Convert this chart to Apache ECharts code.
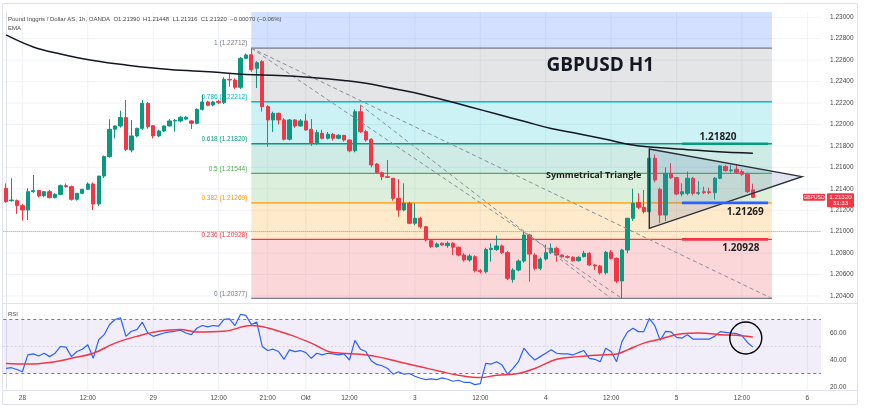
<!DOCTYPE html>
<html><head><meta charset="utf-8">
<script src="https://cdn.jsdelivr.net/npm/echarts@6/dist/echarts.min.js"></script>
<style>html,body{margin:0;padding:0;background:#fff;overflow:hidden}#c{width:870px;height:419px}</style>
</head><body><div id="c"></div>
<script>
// ---------------- DATA ----------------
const opens = [1.21404,1.21289,1.21289,1.21243,1.21202,1.21373,1.21383,1.21336,1.21373,1.21317,
1.21348,1.21429,1.2142,1.21302,1.21358,1.21395,1.21445,1.21258,1.21519,1.217,
1.21955,1.21986,1.22064,1.21762,1.21893,1.21964,1.22197,1.21989,1.21893,1.21939,
1.21986,1.22033,1.22033,1.2205,1.22033,1.22011,1.22141,1.2221,1.22182,1.22216,
1.22204,1.22421,1.22415,1.22347,1.22617,1.2265,1.22524,1.22586,1.22166,1.22042,
1.22104,1.22042,1.21862,1.22042,1.21986,1.22033,1.21955,1.21824,1.21918,1.21871,
1.21908,1.21871,1.21899,1.21855,1.21755,1.22119,1.21933,1.21862,1.21631,1.2155,
1.21513,1.21498,1.21311,1.21202,1.21265,1.21078,1.21125,1.21046,1.20916,1.2086,
1.20892,1.2087,1.20892,1.20855,1.20782,1.20736,1.20767,1.20636,1.20627,1.20833,
1.20833,1.20867,1.20804,1.20555,1.20642,1.20726,1.20969,1.20782,1.20658,1.20745,
1.20804,1.20845,1.20782,1.20767,1.20761,1.20729,1.20767,1.20798,1.20689,1.2068,
1.20617,1.20807,1.20751,1.2054,1.20829,1.21125,1.21271,1.21227,1.21186,1.21685,
1.21395,1.21155,1.21544,1.21504,1.21351,1.21358,1.21498,1.21358,1.21373,1.21373,
1.21364,1.21498,1.21607,1.21569,1.21582,1.2156,1.21535,1.2139];
const highs = [1.2145,1.21498,1.2130,1.2126,1.21404,1.21529,1.2139,1.2138,1.2139,1.2136,
1.2144,1.2145,1.2143,1.2136,1.2140,1.2146,1.2146,1.2152,1.2171,1.22048,
1.2199,1.22129,1.22228,1.22042,1.2197,1.22228,1.2221,1.2199,1.2195,1.2199,
1.2205,1.2205,1.2208,1.2208,1.2204,1.2215,1.22275,1.2222,1.2222,1.2223,
1.2244,1.22477,1.2243,1.2263,1.2266,1.22712,1.2259,1.2260,1.2218,1.2212,
1.2211,1.2206,1.2205,1.2205,1.2205,1.2210,1.2205,1.2195,1.2195,1.2193,
1.2192,1.2191,1.2190,1.2186,1.2214,1.22182,1.2195,1.2187,1.2164,1.2156,
1.21669,1.2150,1.2149,1.21451,1.2128,1.21265,1.2114,1.2105,1.2093,1.2090,
1.2090,1.2091,1.2090,1.2086,1.2080,1.2079,1.2078,1.2065,1.2085,1.20892,
1.20964,1.2088,1.2082,1.2066,1.2074,1.2100,1.2098,1.2080,1.2076,1.2088,
1.2089,1.2086,1.2079,1.2078,1.2077,1.2077,1.2082,1.2081,1.2070,1.2069,
1.2082,1.20829,1.2076,1.2084,1.2113,1.2140,1.21358,1.21389,1.2172,1.2172,
1.2141,1.2160,1.21638,1.2151,1.21451,1.2156,1.2151,1.2147,1.2142,1.2141,
1.2151,1.2162,1.2162,1.2162,1.2163,1.2158,1.2155,1.21448];
const lows = [1.2127,1.2128,1.21165,1.21103,1.21109,1.2136,1.2132,1.2132,1.2131,1.2131,
1.2134,1.2141,1.2129,1.2129,1.2135,1.2139,1.21202,1.2124,1.2150,1.2169,
1.21871,1.2197,1.2175,1.2174,1.2188,1.2195,1.2196,1.2187,1.2188,1.2193,
1.2198,1.21933,1.2202,1.2204,1.21958,1.2200,1.2213,1.2217,1.2217,1.2219,
1.2219,1.22353,1.2233,1.2233,1.2261,1.2249,1.2234,1.2212,1.21793,1.2193,
1.2200,1.2185,1.2185,1.2197,1.2198,1.2194,1.2180,1.2181,1.2186,1.2186,
1.2185,1.2186,1.2184,1.2174,1.2174,1.2192,1.2184,1.2160,1.2154,1.2148,
1.2150,1.2129,1.2114,1.2119,1.2107,1.2106,1.2103,1.2091,1.2085,1.2085,
1.2087,1.2085,1.20782,1.2077,1.2072,1.2072,1.2062,1.2061,1.2061,1.2072,
1.2082,1.2079,1.2055,1.20524,1.2063,1.2071,1.20533,1.2064,1.2064,1.2073,
1.2079,1.2072,1.2075,1.2075,1.2072,1.2072,1.2076,1.2068,1.20642,1.2060,
1.2060,1.2074,1.2052,1.20377,1.2080,1.2110,1.2121,1.2117,1.2117,1.2146,
1.21078,1.2110,1.2149,1.2134,1.2133,1.2134,1.2134,1.2134,1.2135,1.2135,
1.2130,1.2149,1.2156,1.2155,1.2154,1.2152,1.2136,1.21316];
const closes = [1.2128,1.21295,1.21243,1.21202,1.21373,1.21383,1.21333,1.21373,1.21317,1.21348,
1.21429,1.2142,1.21302,1.21358,1.21395,1.21445,1.21258,1.21519,1.217,1.21955,
1.21986,1.22064,1.21768,1.21893,1.21964,1.22197,1.2198,1.21893,1.21939,1.21986,
1.22033,1.22039,1.22067,1.22067,1.22011,1.22141,1.2221,1.22179,1.2221,1.22204,
1.22421,1.22415,1.22347,1.22617,1.22648,1.2251,1.22576,1.22166,1.22042,1.22104,
1.22042,1.21862,1.22042,1.21986,1.22033,1.21949,1.21824,1.21924,1.21871,1.21908,
1.21871,1.21899,1.21855,1.21755,1.22119,1.21933,1.21855,1.21622,1.2155,1.21513,
1.21507,1.21311,1.21202,1.21265,1.21078,1.21125,1.21046,1.20922,1.2086,1.20885,
1.20876,1.20892,1.20855,1.20782,1.20736,1.20773,1.20636,1.20627,1.20833,1.20845,
1.20867,1.20804,1.20565,1.20642,1.20726,1.20969,1.20791,1.20658,1.20745,1.20804,
1.20845,1.20782,1.20767,1.20761,1.20729,1.20761,1.20798,1.20689,1.2068,1.20617,
1.20807,1.20751,1.2054,1.20829,1.21125,1.21265,1.21227,1.21186,1.21685,1.21482,
1.21155,1.21544,1.21504,1.21351,1.21373,1.21498,1.21358,1.21364,1.21364,1.21364,
1.21498,1.21613,1.21569,1.21576,1.2155,1.21535,1.21373,1.2132];

const rsiValues = [33.75,34.3,33,31.3,43.75,44.5,43,45,42.5,45,
50,49.5,42.5,46.25,48,51.25,41.25,55,58.75,66.25,
70,71.25,57.5,61.25,62.5,68,60,57.5,58.75,60,
60.75,61.25,62,60,58.75,63.5,65.5,64.5,65.5,65,
70,70.5,65.5,73.75,73,66.25,68,50,47,48,
46.25,40.5,47.5,46.25,47,45.5,41.25,45,43.75,45,
44.5,43.75,44.5,40,54.5,48,46.25,39.5,36.75,35.75,
33.75,29.5,31.25,29.5,30,28,26.5,25.5,26,25.5,
26.75,25.75,24.25,25,23.5,23.5,21.75,22.5,37.5,37,
38.75,36.25,29.5,33.75,38.75,48.75,43.75,40,42.5,45,
47.5,45,44.5,44.5,43.75,45.5,47,41.25,40.5,38.75,
48.75,46.25,38.75,53.75,60.75,63.5,61,61,70.75,65.5,
54.5,61.25,60.75,56.75,56.25,58.75,55.5,55.5,55.5,55.5,
57.5,61,60.5,60,59.5,58,53,49.5];

const rsiMaIdx = [0,4,9,12,16,20,24,28,32,35,40,45,48,52,56,60,64,68,72,76,80,83,87,90,94,97,101,105,109,112,114,117,120,124,127,131,135,137];
const rsiMaVal = [37.5,37,38.75,41.25,45,52.5,57.5,61.25,62.5,60.75,61.25,65.5,63.75,58.75,52.5,45.5,44.5,42.5,38.75,35,31.25,28.75,27,28.75,30,33.75,40.5,42.5,43.75,44.5,47.5,52.5,55.5,59.5,60,58.75,58,57];

const emaIdx = [0,5,10,16,22,30,38,44,50,56,62,66,70,75,80,85,90,95,100,105,110,115,120,125,130,137];
const emaVal = [1.22835,1.22723,1.22658,1.22597,1.22555,1.22513,1.2249,1.22466,1.22457,1.22438,1.2241,1.22385,1.22345,1.22296,1.22232,1.22166,1.22097,1.2203,1.21962,1.21913,1.21862,1.21808,1.21782,1.21765,1.21748,1.21731];

const priceTicks = [1.204,1.206,1.208,1.210,1.212,1.214,1.216,1.218,1.220,1.222,1.224,1.226,1.228,1.230];
const rsiTicks = [20,40,60];
const timeTickIdx = [3,15,27,39,48,55,63,75,87,99,111,123,135,147];
const timeTickText = ['28','12:00','29','12:00','21:00','Okt','12:00','3','12:00','4','12:00','5','12:00','6'];

const fibNames = ['0','0.236','0.382','0.5','0.618','0.786','1'];
const fibPrices = [1.20377,1.20928,1.21269,1.21544,1.21820,1.22212,1.22712];
const fibStartIdx = 45, fibEndIdx = 140.5;

const keyLevels = [1.21820,1.21269,1.20928];
const keyLevelText = ['1.21820','1.21269','1.20928'];
const keyStartIdx = 124, keyEndIdx = 139.8;

const triangleIdx = [118,146,118];
const trianglePrice = [1.21771,1.21513,1.21031];

const trendFromIdx = [45,45,65];
const trendFromPrice = [1.22712,1.22712,1.22182];
const trendToIdx = [113,140.5,111];
const trendToPrice = [1.20377,1.20377,1.20377];

const lastPrice = 1.21320;
const countdown = '31:33';
const headerText = 'Pound Inggris / Dollar AS, 1h, OANDA  O1.21390  H1.21448  L1.21316  C1.21320  \u22120.00070 (\u22120.06%)';

// ---------------- CHART ----------------
const N = 150;
const cats = Array.from({length:N}, (_, i) => { const k = timeTickIdx.indexOf(i); return k >= 0 ? timeTickText[k] : String(i); });
const yMin = 1.20344, yMax = 1.23049;
const rsiMin = 17.8, rsiMax = 80.7;
const C_UP = '#089981', C_DN = '#f23645';
const fibLineColors = ['#787b86','#f23645','#ff9800','#4caf50','#089981','#00bcd4','#787b86'];
const fibZoneColors = ['rgba(242,54,69,0.2)','rgba(255,152,0,0.2)','rgba(76,175,80,0.2)','rgba(8,153,129,0.2)','rgba(0,188,212,0.2)','rgba(120,123,134,0.2)','rgba(41,98,255,0.2)'];
const keyColors = ['#089981','#2962ff','#f23645'];
const FONT = 'Liberation Sans';

const chart = echarts.init(document.getElementById('c'), null, {renderer:'canvas', width:870, height:419});

const gridL = 3.3, gridR = 49;
const option = {
  animation:false,
  backgroundColor:'#ffffff',
  textStyle:{fontFamily:FONT},
  grid:[
    {left:gridL, right:gridR, top:12, height:290, outerBoundsMode:'none'},
    {left:gridL, right:gridR, top:305, height:85, outerBoundsMode:'none'}
  ],
  xAxis:[
    {type:'category', gridIndex:0, data:cats, boundaryGap:true, axisLabel:{show:false}, axisTick:{show:false}, axisLine:{show:false}, splitLine:{show:false}},
    {type:'category', gridIndex:1, data:cats, boundaryGap:true,
      axisLabel:{show:true, interval:(i)=>timeTickIdx.indexOf(i)>=0, fontSize:6.5, color:'#4a4a4a', margin:5, fontFamily:FONT},
      axisTick:{show:false}, axisLine:{show:false}, splitLine:{show:false}},
    {type:'value', gridIndex:0, min:-0.5, max:N-0.5, show:false},
    {type:'value', gridIndex:1, min:-0.5, max:N-0.5, show:false}
  ],
  yAxis:[
    {type:'value', gridIndex:0, position:'right', min:yMin, max:yMax, scale:true,
      axisLabel:{customValues:priceTicks, formatter:(v)=>v.toFixed(5), fontSize:6.5, color:'#4a4a4a', margin:9, fontFamily:FONT},
      axisTick:{show:false, customValues:priceTicks}, axisLine:{show:true, lineStyle:{color:'#e0e3eb'}}, splitLine:{show:false}},
    {type:'value', gridIndex:1, position:'right', min:rsiMin, max:rsiMax,
      axisLabel:{customValues:rsiTicks, formatter:(v)=>v.toFixed(2), fontSize:6.5, color:'#4a4a4a', margin:9, fontFamily:FONT},
      axisTick:{show:false, customValues:rsiTicks}, axisLine:{show:true, lineStyle:{color:'#e0e3eb'}}, splitLine:{show:false}}
  ],
  series:[
    {type:'custom', xAxisIndex:2, yAxisIndex:0, z:0, silent:true, clip:true,
      data:priceTicks.map(p=>[0,p]),
      renderItem:(params, api)=>{ const cs = params.coordSys; const y = api.coord([0, api.value(1)])[1];
        return {type:'line', shape:{x1:cs.x, y1:y, x2:cs.x+cs.width, y2:y}, style:{stroke:'#f0f2f6', lineWidth:1}}; }},
    {type:'custom', xAxisIndex:2, yAxisIndex:0, z:0, silent:true, clip:true,
      data:timeTickIdx.map(i=>[i,1.21]),
      renderItem:(params, api)=>{ const cs = params.coordSys; const x = api.coord([api.value(0), 1.21])[0];
        return {type:'line', shape:{x1:x, y1:cs.y, x2:x, y2:cs.y+cs.height}, style:{stroke:'#f0f2f6', lineWidth:1}}; }},
    {type:'custom', xAxisIndex:3, yAxisIndex:1, z:0, silent:true, clip:true,
      data:timeTickIdx.map(i=>[i,50]),
      renderItem:(params, api)=>{ const cs = params.coordSys; const x = api.coord([api.value(0), 50])[0];
        return {type:'line', shape:{x1:x, y1:cs.y, x2:x, y2:cs.y+cs.height}, style:{stroke:'#f0f2f6', lineWidth:1}}; }},
    {type:'custom', xAxisIndex:2, yAxisIndex:0, z:1, silent:true, clip:true,
      data:fibPrices.map((p,k)=>[fibStartIdx,p,k]),
      renderItem:(params, api)=>{ const k = api.value(2); const lo = fibPrices[k]; const hi = k+1<fibPrices.length ? fibPrices[k+1] : yMax+0.01;
        const a = api.coord([fibStartIdx, hi]); const b = api.coord([fibEndIdx, lo]);
        return {type:'rect', shape:{x:a[0], y:a[1], width:b[0]-a[0], height:b[1]-a[1]}, style:{fill:fibZoneColors[k]}}; }},
    {type:'custom', xAxisIndex:2, yAxisIndex:0, z:2, silent:true, clip:false,
      data:fibPrices.map((p,k)=>[fibStartIdx,p,k]),
      renderItem:(params, api)=>{ const k = api.value(2); const p = fibPrices[k];
        const a = api.coord([fibStartIdx, p]); const b = api.coord([fibEndIdx, p]);
        return {type:'group', children:[
          {type:'line', shape:{x1:a[0], y1:a[1], x2:b[0], y2:b[1]}, style:{stroke:fibLineColors[k], lineWidth:1.3}},
          {type:'text', x:a[0]-4, y:a[1]-1, style:{text:fibNames[k]+' ('+p.toFixed(5)+')', fill:fibLineColors[k], fontSize:6.5, fontFamily:FONT, align:'right', verticalAlign:'bottom'}}
        ]}; }},
    {type:'candlestick', xAxisIndex:0, yAxisIndex:0, z:3, barWidth:3.8,
      data:opens.map((o,i)=>[o, closes[i], lows[i], highs[i]]),
      itemStyle:{color:C_UP, color0:C_DN, borderColor:C_UP, borderColor0:C_DN, borderWidth:1},
      markLine:{silent:true, symbol:'none', label:{show:false},
        lineStyle:{color:C_DN, type:'dotted', width:1, opacity:0.55},
        data:[{yAxis:lastPrice}]}},
    {type:'custom', xAxisIndex:2, yAxisIndex:0, z:4, silent:true, clip:true,
      data:trendFromIdx.map((x,k)=>[x, trendFromPrice[k], k]),
      renderItem:(params, api)=>{ const k = api.value(2);
        const a = api.coord([trendFromIdx[k], trendFromPrice[k]]); const b = api.coord([trendToIdx[k], trendToPrice[k]]);
        return {type:'line', shape:{x1:a[0], y1:a[1], x2:b[0], y2:b[1]}, style:{stroke:'#8a8d96', lineWidth:1, lineDash:[4,3]}}; }},
    {type:'custom', xAxisIndex:2, yAxisIndex:0, z:5, silent:true, clip:false,
      data:[[triangleIdx[0], trianglePrice[0]]],
      renderItem:(params, api)=>{
        const pts = triangleIdx.map((x,k)=>api.coord([x, trianglePrice[k]]));
        return {type:'polygon', shape:{points:pts}, style:{fill:'rgba(100,125,175,0.2)', stroke:'#2a2e39', lineWidth:1.4}}; }},
    {type:'line', xAxisIndex:2, yAxisIndex:0, z:6, silent:true, symbol:'none', smooth:0.4,
      data:emaIdx.map((x,k)=>[x, emaVal[k]]), lineStyle:{color:'#131722', width:1.5}},
    {type:'custom', xAxisIndex:2, yAxisIndex:0, z:7, silent:true, clip:false,
      data:keyLevels.map((p,k)=>[keyStartIdx,p,k]),
      renderItem:(params, api)=>{ const k = api.value(2); const p = keyLevels[k];
        const a = api.coord([keyStartIdx, p]); const b = api.coord([keyEndIdx, p]);
        return {type:'line', shape:{x1:a[0], y1:a[1], x2:b[0], y2:b[1]}, style:{stroke:keyColors[k], lineWidth:2.6}}; }},
    {type:'line', xAxisIndex:1, yAxisIndex:1, z:3, silent:true, symbol:'none', data:rsiValues,
      lineStyle:{color:'#2962ff', width:1.2},
      markArea:{silent:true, itemStyle:{color:'rgba(126,87,194,0.1)'}, data:[[{yAxis:30},{yAxis:70}]]},
      markLine:{silent:true, symbol:'none', label:{show:false},
        data:[{yAxis:70, lineStyle:{color:'#787b86', type:[3,3], width:1}},
              {yAxis:50, lineStyle:{color:'rgba(120,123,134,0.4)', type:[1,3], width:1}},
              {yAxis:30, lineStyle:{color:'#787b86', type:[3,3], width:1}}]}},
    {type:'line', xAxisIndex:3, yAxisIndex:1, z:4, silent:true, symbol:'none', smooth:0.4,
      data:rsiMaIdx.map((x,k)=>[x, rsiMaVal[k]]), lineStyle:{color:'#f23645', width:1.5}},
    {type:'custom', xAxisIndex:3, yAxisIndex:1, z:6, silent:true, clip:false,
      data:[[135.7,56.3]],
      renderItem:(params, api)=>{ const c = api.coord([api.value(0), api.value(1)]);
        return {type:'circle', shape:{cx:c[0], cy:c[1], r:16}, style:{fill:'none', stroke:'#000', lineWidth:1.4}}; }}
  ]
};
chart.setOption(option);

const px = (x, y) => chart.convertToPixel({xAxisIndex:2, yAxisIndex:0}, [x, y]);
const pTitle = px(109, 1.22546);
const pTri = px(107.8, 1.2152);
const keyLabelIdx = [130.6, 135.6, 134.8];
const keyLabelDy = [-7, 9, 9];
const pLast = px(148, lastPrice);
const gx = 870 - gridR;

const graphics = [
  {type:'rect', shape:{x:2.5, y:3.5, width:855, height:401}, style:{fill:'none', stroke:'#e0e3eb', lineWidth:1}, z:0, silent:true},
  {type:'line', shape:{x1:2.5, y1:303.5, x2:857.5, y2:303.5}, style:{stroke:'#e0e3eb', lineWidth:1}, z:50, silent:true},
  {type:'line', shape:{x1:2.5, y1:390.5, x2:857.5, y2:390.5}, style:{stroke:'#e0e3eb', lineWidth:1}, z:50, silent:true},
  {type:'text', x:8, y:19, style:{text:headerText, fontSize:6, fill:'#4a4a4a', fontFamily:FONT, verticalAlign:'middle'}, z:50},
  {type:'text', x:8, y:28, style:{text:'EMA', fontSize:6, fill:'#4a4a4a', fontFamily:FONT, verticalAlign:'middle'}, z:50},
  {type:'text', x:8, y:314, style:{text:'RSI', fontSize:6, fill:'#4a4a4a', fontFamily:FONT, verticalAlign:'middle'}, z:50},
  {type:'text', x:pTitle[0], y:pTitle[1], style:{text:'GBPUSD H1', fontSize:19, fontWeight:'bold', fill:'#131722', fontFamily:'Open Sans', align:'center', verticalAlign:'middle'}, z:50},
  {type:'text', x:pTri[0], y:pTri[1], style:{text:'Symmetrical Triangle', fontSize:9, fontWeight:'bold', fill:'#1e1e1e', fontFamily:'Open Sans', align:'center', verticalAlign:'middle'}, z:50}
];
keyLevels.forEach((p,k)=>{
  const q = px(keyLabelIdx[k], p);
  graphics.push({type:'text', x:q[0], y:q[1]+keyLabelDy[k], style:{text:keyLevelText[k], fontSize:10, fontWeight:'bold', fill:'#1e1e1e', fontFamily:'Open Sans', align:'center', verticalAlign:'middle'}, z:50});
});
graphics.push({type:'rect', shape:{x:gx-18, y:pLast[1]-3.5, width:22, height:7, r:1}, style:{fill:C_DN}, z:60});
graphics.push({type:'text', x:gx-7, y:pLast[1], style:{text:'GBPUSD', fontSize:5, fill:'#fff', fontFamily:FONT, align:'center', verticalAlign:'middle'}, z:61});
graphics.push({type:'rect', shape:{x:gx+6, y:pLast[1]-4, width:27, height:14, r:1}, style:{fill:C_DN}, z:60});
graphics.push({type:'text', x:gx+19.5, y:pLast[1]-0.5, style:{text:lastPrice.toFixed(5), fontSize:6.2, fill:'#fff', fontFamily:FONT, align:'center', verticalAlign:'middle'}, z:61});
graphics.push({type:'text', x:gx+19.5, y:pLast[1]+6, style:{text:countdown, fontSize:6.2, fill:'#fff', fontFamily:FONT, align:'center', verticalAlign:'middle'}, z:61});
chart.setOption({graphic:graphics});
</script></body></html>
